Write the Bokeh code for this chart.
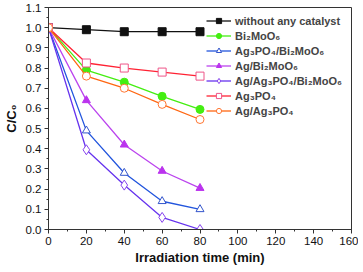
from bokeh.plotting import figure
from bokeh.embed import file_html
from bokeh.resources import INLINE
from bokeh.models import Range1d, FixedTicker, CustomJSTickFormatter

time = [0, 20, 40, 60, 80]
none_cat = [1.0, 0.99, 0.98, 0.98, 0.98]
bi2moo6 = [1.0, 0.79, 0.73, 0.66, 0.595]
ag3po4_bi = [1.0, 0.49, 0.28, 0.14, 0.10]
ag_bi = [1.0, 0.64, 0.42, 0.29, 0.205]
ag_ag3po4_bi = [1.0, 0.395, 0.22, 0.06, 0.0]
ag3po4 = [1.0, 0.825, 0.80, 0.78, 0.76]
ag_ag3po4 = [1.0, 0.76, 0.70, 0.62, 0.545]

labels = ["without any catalyst", "Bi\u2082MoO\u2086", "Ag\u2083PO\u2084/Bi\u2082MoO\u2086",
          "Ag/Bi\u2082MoO\u2086", "Ag/Ag\u2083PO\u2084/Bi\u2082MoO\u2086", "Ag\u2083PO\u2084", "Ag/Ag\u2083PO\u2084"]
x_ticks = [0, 20, 40, 60, 80, 100, 120, 140, 160]
y_ticks = [0.0, 0.1, 0.2, 0.3, 0.4, 0.5, 0.6, 0.7, 0.8, 0.9, 1.0, 1.1]
x_title = "Irradiation time (min)"
y_title = "C/C\u2080"

p = figure(width=358, height=268, output_backend="svg", toolbar_location=None,
           x_range=Range1d(0, 160), y_range=Range1d(0, 1.1),
           min_border_top=7, min_border_right=7, min_border_left=48, min_border_bottom=39)
p.title.visible = False
p.grid.visible = False
p.outline_line_color = "#333333"
p.outline_line_width = 1

series = [
    (none_cat, "#111111", "#111111", "square", True),
    (bi2moo6, "#44ee11", "#44ee11", "circle", True),
    (ag3po4_bi, "#2255dd", "#3355cc", "triangle", False),
    (ag_bi, "#bb44ee", "#bb33ee", "triangle", True),
    (ag_ag3po4_bi, "#6633ee", "#8844ee", "diamond", False),
    (ag3po4, "#ff2233", "#ee5588", "square", False),
    (ag_ag3po4, "#ff6611", "#ff7733", "circle", False),
]
for (ys, lc, mc, mk, filled), lab in zip(series, labels):
    p.line(time, ys, line_color=lc, line_width=1.3, legend_label=lab)
    p.scatter(time, ys, marker=mk, size=8 if mk != "diamond" else 10,
              line_color=mc, fill_color=mc if filled else "white", line_width=1,
              legend_label=lab)

p.xaxis.ticker = FixedTicker(ticks=x_ticks, minor_ticks=list(range(0, 161, 10)))
p.yaxis.ticker = FixedTicker(ticks=y_ticks, minor_ticks=[i * 0.05 for i in range(23)])
p.yaxis.formatter = CustomJSTickFormatter(code="return tick.toFixed(1);")
for ax in (p.xaxis, p.yaxis):
    ax.major_label_text_font = "Liberation Sans"
    ax.major_label_text_font_size = "11.5px"
    ax.major_label_text_color = "#111111"
    ax.axis_label_text_font = "Liberation Sans"
    ax.axis_label_text_font_style = "bold"
    ax.axis_label_text_font_size = "13px"
    ax.axis_label_text_color = "#111111"
    ax.axis_line_color = "#333333"
    ax.major_tick_line_color = "#333333"
    ax.minor_tick_line_color = "#333333"
    ax.major_tick_out = 4
    ax.major_tick_in = 0
    ax.minor_tick_out = 2
    ax.minor_tick_in = 0
    ax.major_label_standoff = 3
p.xaxis.axis_label = x_title
p.yaxis.axis_label = y_title
p.xaxis.axis_label_standoff = 2
p.yaxis.axis_label_standoff = 4

p.legend.location = (158, 112)
p.legend.border_line_color = None
p.legend.background_fill_alpha = 0
p.legend.label_text_font = "Liberation Sans"
p.legend.label_text_font_style = "bold"
p.legend.label_text_font_size = "11px"
p.legend.label_height = 13
p.legend.glyph_height = 13
p.legend.glyph_width = 25
p.legend.spacing = 2
p.legend.padding = 3
p.legend.margin = 0
p.legend.label_standoff = 4

open("out.html", "w").write(file_html(p, INLINE))
